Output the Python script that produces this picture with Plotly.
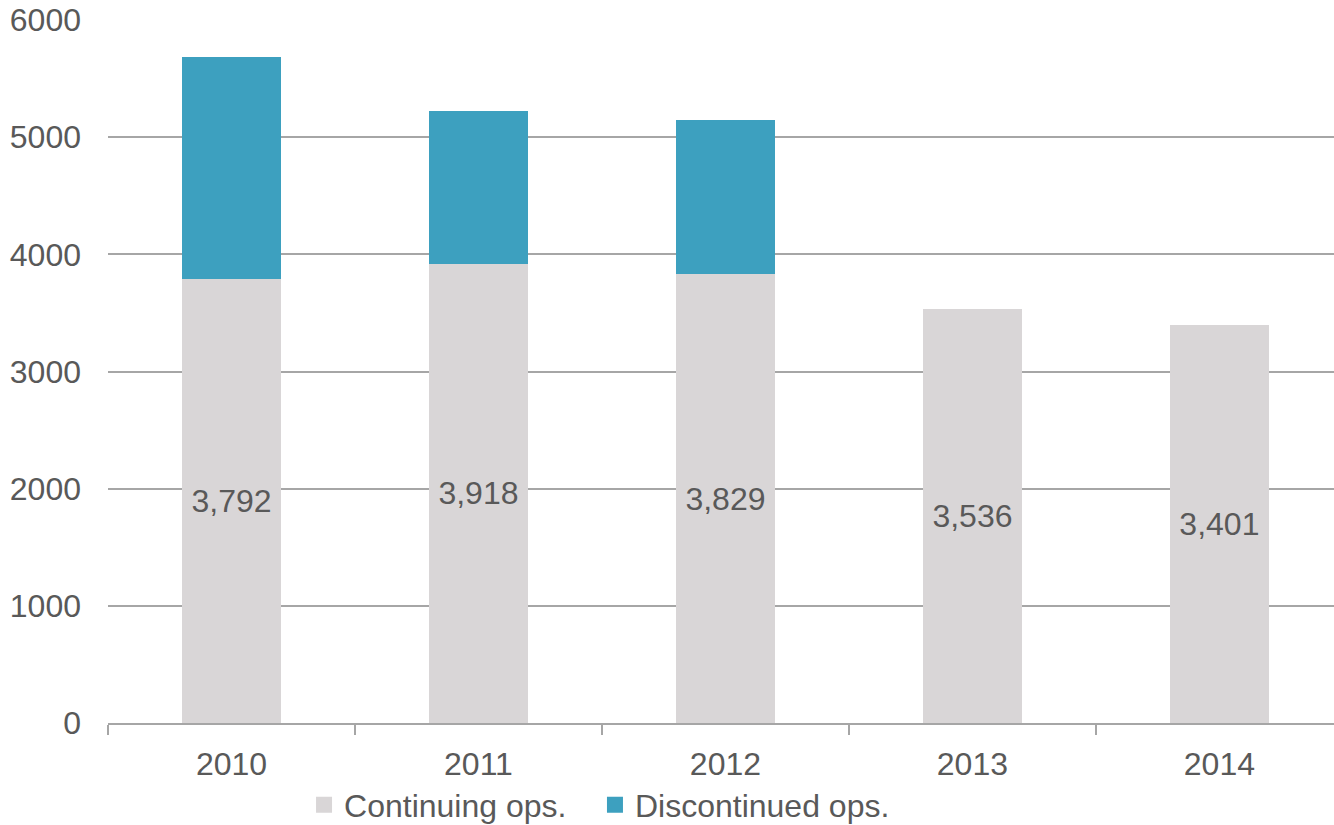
import plotly.graph_objects as go

# Operating figures by year, split into continuing and discontinued operations
years = ["2010", "2011", "2012", "2013", "2014"]
continuing = [3792, 3918, 3829, 3536, 3401]
discontinued = [1895, 1305, 1317, 0, 0]
continuing_labels = ["3,792", "3,918", "3,829", "3,536", "3,401"]

GREY_TEXT = "#595959"
CONT_COLOR = "#D9D6D7"
DISC_COLOR = "#3DA0BF"
FONT = "Liberation Sans, Arial, sans-serif"
FS = 32

fig = go.Figure()
fig.add_trace(go.Bar(
    name="Continuing ops.",
    x=years,
    y=continuing,
    text=continuing_labels,
    textposition="inside",
    insidetextanchor="middle",
    textfont=dict(size=FS, color=GREY_TEXT, family=FONT),
    marker=dict(color=CONT_COLOR, line=dict(width=0)),
    width=0.4,
    showlegend=False,
    hoverinfo="skip",
))
fig.add_trace(go.Bar(
    name="Discontinued ops.",
    x=years,
    y=discontinued,
    marker=dict(color=DISC_COLOR, line=dict(width=0)),
    width=0.4,
    showlegend=False,
    hoverinfo="skip",
))

# Legend entries with larger square swatches
fig.add_trace(go.Scatter(
    name="Continuing ops.", x=[None], y=[None], mode="markers",
    marker=dict(symbol="square", size=16, color=CONT_COLOR),
    legend="legend", showlegend=True, hoverinfo="skip",
))
fig.add_trace(go.Scatter(
    name="Discontinued ops.", x=[None], y=[None], mode="markers",
    marker=dict(symbol="square", size=16, color=DISC_COLOR),
    legend="legend2", showlegend=True, hoverinfo="skip",
))

legend_common = dict(
    orientation="h",
    xanchor="left",
    yanchor="middle",
    y=-0.1166,
    font=dict(size=FS, color=GREY_TEXT, family=FONT),
    itemwidth=30,
    bgcolor="rgba(0,0,0,0)",
    borderwidth=0,
)

fig.update_layout(
    barmode="stack",
    width=1334,
    height=825,
    margin=dict(l=108, r=0, t=20, b=102, autoexpand=False),
    paper_bgcolor="white",
    plot_bgcolor="white",
    font=dict(family=FONT, size=FS, color=GREY_TEXT),
    legend=dict(x=0.1599, **legend_common),
    legend2=dict(x=0.3972, **legend_common),
    xaxis=dict(
        type="category",
        range=[-0.5, 4.464],
        showgrid=False,
        showline=True,
        linecolor="#A6A6A6",
        linewidth=1.5,
        ticks="outside",
        tickson="boundaries",
        ticklen=10,
        tickcolor="#A6A6A6",
        tickwidth=1.5,
        ticklabelstandoff=12,
        tickfont=dict(size=FS, color=GREY_TEXT),
        fixedrange=True,
    ),
    yaxis=dict(
        range=[0, 6000],
        tickvals=[0, 1000, 2000, 3000, 4000, 5000, 6000],
        ticktext=["0", "1000", "2000", "3000", "4000", "5000", "6000"],
        showgrid=True,
        gridcolor="#A6A6A6",
        gridwidth=1.5,
        zeroline=False,
        showline=False,
        ticklabelstandoff=26,
        tickfont=dict(size=FS, color=GREY_TEXT),
        fixedrange=True,
    ),
)

fig.write_html("out.html")
